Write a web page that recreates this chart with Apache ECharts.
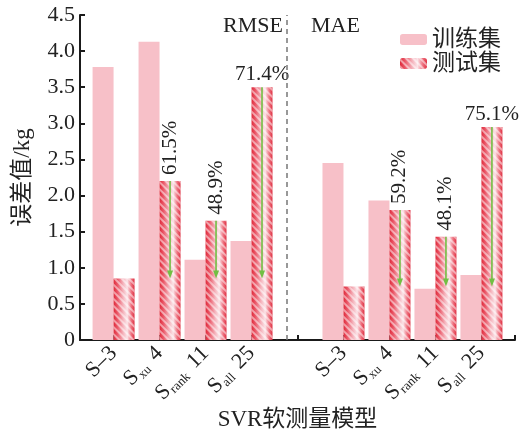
<!DOCTYPE html>
<html>
<head>
<meta charset="utf-8">
<script src="https://cdn.jsdelivr.net/npm/echarts@6/dist/echarts.min.js"></script>
<style>
  html, body { margin: 0; padding: 0; background: #fff; }
  #chart { width: 529px; height: 429px; }
</style>
</head>
<body>
<div id="chart"></div>
<script>
// Soft-sensor models: subscript and suffix of each name (main letter is S)
const modelSub = ['', 'xu', 'rank', 'all'];
const modelSuffix = ['–3', ' 4', ' 11', ' 25'];

// Positions on the x axis: RMSE group, divider, MAE group
const rmsePos = [1, 2, 3, 4];
const dividerPos = 5;
const maePos = [6, 7, 8, 9];

// Error values (kg)
const trainRMSE = [3.78, 4.13, 1.11, 1.37];
const testRMSE  = [0.85, 2.20, 1.65, 3.50];
const trainMAE  = [2.45, 1.93, 0.71, 0.90];
const testMAE   = [0.74, 1.80, 1.43, 2.95];

// Error reduction relative to S-3 on the test set
const reduceRMSE = ['', '61.5%', '48.9%', '71.4%'];
const reduceMAE  = ['', '59.2%', '48.1%', '75.1%'];

// Y axis ticks
const yMax = 4.5;
const yStep = 0.5;

const X_MIN = 0.27, X_MAX = 9.73;
const BAR_W = 21;
const FONT = "'Liberation Serif', 'Noto Sans CJK SC', serif";
const TRAIN_COLOR = '#f7c0c8';
const ARROW_COLOR = '#72bf44';

const testFill = new echarts.graphic.LinearGradient(0, 0, 1, 0, [
  { offset: 0, color: '#df2a3b' },
  { offset: 0.18, color: '#ea5666' },
  { offset: 0.45, color: '#f5b2bb' },
  { offset: 0.65, color: '#fbe4e8' },
  { offset: 0.85, color: '#ee6f7d' },
  { offset: 1, color: '#de3042' }
]);
const hatch = {
  symbol: 'rect',
  symbolSize: 1,
  color: 'rgba(255,255,255,0.5)',
  dashArrayX: [1, 0],
  dashArrayY: [1.2, 3.0],
  rotation: Math.PI / 4
};

const allPos = rmsePos.concat(maePos);
const trainData = rmsePos.map((x, i) => [x, trainRMSE[i]])
  .concat(maePos.map((x, i) => [x, trainMAE[i]]));

function testItem(x, v, pct) {
  const item = { value: [x, v] };
  if (!pct) return item;
  const upright = pct === reduceRMSE[3] || pct === reduceMAE[3];
  item.label = upright
    ? { show: true, formatter: pct, position: 'top', distance: 2, rotate: 0 }
    : { show: true, formatter: pct, position: 'top', distance: 3, rotate: 90,
        align: 'left', verticalAlign: 'middle', offset: [3, 0] };
  return item;
}
const testData = rmsePos.map((x, i) => testItem(x, testRMSE[i], reduceRMSE[i]))
  .concat(maePos.map((x, i) => testItem(x, testMAE[i], reduceMAE[i])));

// Arrows from each improved test bar down to the S-3 test level
const arrowData = [];
rmsePos.forEach((x, i) => { if (reduceRMSE[i]) arrowData.push([x, testRMSE[i], testRMSE[0]]); });
maePos.forEach((x, i) => { if (reduceMAE[i]) arrowData.push([x, testMAE[i], testMAE[0]]); });

function modelLabel(value) {
  const idx = allPos.indexOf(Math.round(value));
  if (idx < 0 || Math.abs(value - Math.round(value)) > 1e-6) return '';
  const k = idx % 4;
  return modelSub[k]
    ? '{m|S}{s|' + modelSub[k] + '}{m|' + modelSuffix[k] + '}'
    : '{m|S' + modelSuffix[k] + '}';
}

const chart = echarts.init(document.getElementById('chart'), null, { renderer: 'canvas' });
chart.setOption({
  animation: false,
  backgroundColor: '#fff',
  title: [
    { text: 'RMSE', left: 223, top: 15, padding: 0,
      textStyle: { fontFamily: FONT, fontWeight: 'normal', fontSize: 22, color: '#222' } },
    { text: 'MAE', left: 311, top: 15, padding: 0,
      textStyle: { fontFamily: FONT, fontWeight: 'normal', fontSize: 22, color: '#222' } }
  ],
  legend: {
    orient: 'vertical',
    left: 400,
    top: 28,
    padding: 0,
    itemWidth: 27,
    itemHeight: 11,
    itemGap: 1,
    textStyle: { fontFamily: FONT, fontSize: 23, color: '#222' },
    data: ['训练集', '测试集']
  },
  grid: { left: 80, right: 14, top: 15, bottom: 89, containLabel: false, outerBoundsMode: 'none' },
  xAxis: {
    type: 'value',
    min: X_MIN,
    max: X_MAX,
    name: 'SVR软测量模型',
    nameLocation: 'middle',
    nameGap: 68,
    nameMoveOverlap: false,
    nameTextStyle: { fontFamily: FONT, fontSize: 23, color: '#222' },
    splitLine: { show: false },
    axisLine: { show: true, lineStyle: { color: '#1a1a1a', width: 2 } },
    axisTick: { show: true, inside: true, length: 5, lineStyle: { color: '#1a1a1a', width: 2 },
      customValues: allPos.concat([dividerPos, X_MAX]) },
    axisLabel: {
      customValues: allPos,
      rotate: 45,
      margin: 10,
      formatter: modelLabel,
      rich: {
        m: { fontFamily: FONT, fontSize: 22, color: '#222', lineHeight: 22, verticalAlign: 'top' },
        s: { fontFamily: FONT, fontSize: 13, color: '#222', lineHeight: 13, verticalAlign: 'top',
             padding: [10, 3, 0, 1] }
      }
    }
  },
  yAxis: {
    type: 'value',
    min: 0,
    max: yMax,
    interval: yStep,
    name: '误差值/kg',
    nameLocation: 'middle',
    nameGap: 46,
    nameRotate: 90,
    nameTextStyle: { fontFamily: FONT, fontSize: 23, color: '#222' },
    splitLine: { show: false },
    axisLine: { show: true, lineStyle: { color: '#1a1a1a', width: 2 } },
    axisTick: { show: true, inside: true, length: 5, lineStyle: { color: '#1a1a1a', width: 2 } },
    axisLabel: {
      margin: 5,
      fontFamily: FONT, fontSize: 22, color: '#222',
      formatter: v => (v === 0 ? '0' : v.toFixed(1))
    }
  },
  series: [
    {
      name: '训练集',
      type: 'bar',
      barWidth: BAR_W,
      barGap: '0%',
      itemStyle: { color: TRAIN_COLOR },
      data: trainData,
      markLine: {
        silent: true,
        symbol: ['none', 'none'],
        label: { show: false },
        lineStyle: { type: [5, 4], color: '#777', width: 1.5 },
        data: [{ xAxis: dividerPos }]
      }
    },
    {
      name: '测试集',
      type: 'bar',
      barWidth: BAR_W,
      barGap: '0%',
      itemStyle: { color: testFill, decal: hatch },
      label: { fontFamily: FONT, fontSize: 21, color: '#222' },
      data: testData
    },
    {
      name: 'arrows',
      type: 'custom',
      silent: true,
      z: 5,
      data: arrowData,
      renderItem: function (params, api) {
        const top = api.coord([api.value(0), api.value(1)]);
        const end = api.coord([api.value(0), api.value(2)]);
        const cx = top[0] + BAR_W / 2;
        const tip = end[1];
        return {
          type: 'group',
          children: [
            { type: 'line', shape: { x1: cx, y1: top[1], x2: cx, y2: tip - 6 },
              style: { stroke: ARROW_COLOR, lineWidth: 1.6 } },
            { type: 'polygon', shape: { points: [[cx - 3, tip - 8], [cx + 3, tip - 8], [cx, tip]] },
              style: { fill: ARROW_COLOR } }
          ]
        };
      }
    }
  ]
});
</script>
</body>
</html>
